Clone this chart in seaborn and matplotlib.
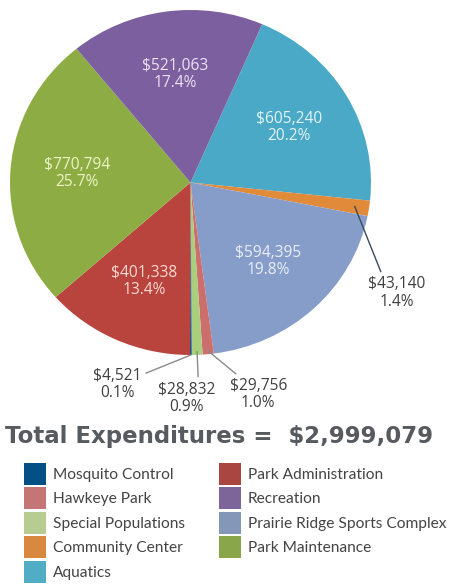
import numpy as np
import seaborn as sns
import matplotlib.pyplot as plt
from matplotlib.patches import Patch

# slices in clockwise order starting at the top-right
categories = ["Aquatics", "Community Center", "Prairie Ridge Sports Complex",
              "Hawkeye Park", "Special Populations", "Mosquito Control",
              "Park Administration", "Park Maintenance", "Recreation"]
amounts = [605240, 43140, 594395, 29756, 28832, 4521, 401338, 770794, 521063]
pct_labels = ["20.2%", "1.4%", "19.8%", "1.0%", "0.9%", "0.1%", "13.4%", "25.7%", "17.4%"]
slice_colors = ["#4aa9c7", "#e08a3a", "#879dc9", "#cc6f6c", "#a9cf7c", "#1d4f86",
                "#b9433d", "#8dad44", "#7c5f9f"]
label_colors = ["#e2f4f8", None, "#e8eef9", None, None, None,
                "#fbd9d3", "#eef4c4", "#ece2f4"]
legend_col1 = ["Mosquito Control", "Hawkeye Park", "Special Populations",
               "Community Center", "Aquatics"]
legend_col2 = ["Park Administration", "Recreation", "Prairie Ridge Sports Complex",
               "Park Maintenance"]
legend_colors = {"Mosquito Control": "#034f86", "Hawkeye Park": "#c57575",
                 "Special Populations": "#b6cc91", "Community Center": "#d9883f",
                 "Aquatics": "#51acc6", "Park Administration": "#a94642",
                 "Recreation": "#7e6599", "Prairie Ridge Sports Complex": "#8497b8",
                 "Park Maintenance": "#89a74a"}
total = sum(amounts)

sns.set_theme(style="white")
plt.rcParams['font.family'] = ['Open Sans', 'DejaVu Sans']

W, H = 449, 584
fig = plt.figure(figsize=(W / 100, H / 100), dpi=100)
fig.patch.set_facecolor("white")
ax = fig.add_axes([10 / W, 1 - 355 / H, 361 / W, 345 / H])

wedges, _ = ax.pie(amounts, colors=sns.color_palette(slice_colors), startangle=66.6,
                   counterclock=False, wedgeprops=dict(linewidth=0))
ax.set_aspect('auto')
ax.set_xlim(-1, 1)
ax.set_ylim(-1, 1)
ax.axis('off')

# big slices: labels inside
for w, amt, pct, lc in zip(wedges, amounts, pct_labels, label_colors):
    if lc is None:
        continue
    mid = np.deg2rad((w.theta1 + w.theta2) / 2)
    ax.text(0.63 * np.cos(mid), 0.63 * np.sin(mid), f"\\${amt:,}\n{pct}",
            ha='center', va='center', color=lc, fontsize=11.2, linespacing=1.1)

# small slices: labels outside with leader lines
outside = {
    "Community Center": ((1.144, -0.64), 0.92, (0.25, 1.0), "#3d4a5a"),
    "Hawkeye Park": ((0.375, -1.23), 0.98, (0.2, 1.0), "#8a8a8a"),
    "Special Populations": ((-0.02, -1.25), 0.98, (0.7, 1.0), "#8a8a8a"),
    "Mosquito Control": ((-0.407, -1.17), 1.0, (1.0, 0.78), "#8a8a8a"),
}
for name, (txy, r, rel, lcol) in outside.items():
    i = categories.index(name)
    w = wedges[i]
    mid = np.deg2rad((w.theta1 + w.theta2) / 2)
    ax.annotate(f"\\${amounts[i]:,}\n{pct_labels[i]}",
                xy=(r * np.cos(mid), r * np.sin(mid)), xytext=txy,
                ha='center', va='center', fontsize=11.2, color="#404040",
                linespacing=1.1, annotation_clip=False,
                arrowprops=dict(arrowstyle='-', color=lcol, lw=1,
                                shrinkA=1, shrinkB=0, relpos=rel))

fig.text(5 / W, 1 - 437 / H, f"Total Expenditures =  \\${total:,}",
         fontsize=16.5, fontweight='bold', color="#575b5f", va='center',
         family=['DejaVu Sans'])

for names, x0 in ((legend_col1, 24), (legend_col2, 219)):
    handles = [Patch(facecolor=legend_colors[n], edgecolor='none', label=n) for n in names]
    leg = fig.legend(handles=handles, loc='upper left',
                     bbox_to_anchor=(x0 / W, 1 - 463 / H), frameon=False,
                     borderpad=0, borderaxespad=0, handlelength=1.41, handleheight=1.79,
                     handletextpad=0.45, labelspacing=0.16,
                     prop=dict(family=['Lato', 'DejaVu Sans'], size=11.2))
    for t in leg.get_texts():
        t.set_color("#444444")

fig.savefig("out.png", dpi=100, facecolor="white")
